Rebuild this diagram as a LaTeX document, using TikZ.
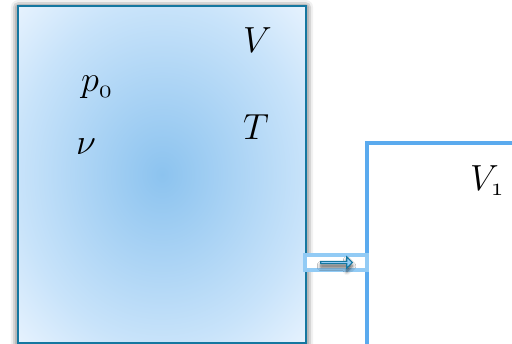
\RequirePackage{fix-cm}
\documentclass[tikz,border=0pt]{standalone}
\usetikzlibrary{fit,shapes.arrows,shadows.blur}
\definecolor{rim}{HTML}{1577A0}
\definecolor{sky}{HTML}{8CC3EF}
\definecolor{mist}{HTML}{C8E3FA}
\definecolor{pale}{HTML}{E8F3FE}
\definecolor{edge}{HTML}{5AAAEE}
\definecolor{tube}{HTML}{92CBF5}
\pgfdeclareradialshading{glow}{\pgfpoint{0bp}{0bp}}{color(0bp)=(sky); color(25bp)=(mist); color(36bp)=(pale); color(50bp)=(pale)}
\newcommand{\osz}{\mathchar"0130}
\newcommand{\oso}{\mathchar"0131}
\begin{document}
\begin{tikzpicture}[x=0.03cm, y=-0.03cm,
  tk/.style={draw=rim, line width=1.6pt, inner sep=0pt, shading=glow,
    blur shadow={shadow xshift=0pt, shadow yshift=-1pt, shadow blur radius=6pt, shadow opacity=85}},
  vs/.style={draw=edge, line width=2.6pt, fill=white, inner sep=0pt},
  pp/.style={draw=tube, line width=2.6pt, fill=white, inner sep=0pt},
  ar/.style={single arrow, draw=rim, line width=0.9pt, fill=tube, minimum height=0.95cm,
    minimum width=0.34cm, single arrow head extend=0.06cm, inner sep=0pt,
    blur shadow={shadow xshift=0pt, shadow yshift=-3pt, shadow blur radius=3pt, shadow opacity=70}},
  lb/.style={font=\fontsize{31}{36}\selectfont, inner sep=0pt, anchor=base west}]
\useasboundingbox (0,0) rectangle (512,344);
\node[tk, fit={(18,6) (306,343)}] (tank) {};
\node[vs, fit={(367,143) (530,360)}] (vessel) {};
\node[pp, fit={(305,255) (367,270)}] (pipe) {};
\node[ar] (flow) at (pipe.center) {};
% labels
\node[lb] (vol) at (243,53) {$V$};
\node[lb] (temp) at (243,140) {$T$};
\node[lb] (pres) at (81,92) {$p_{\osz}$};
\node[lb] (mol) at (76,155) {$\nu$};
\node[lb] (vol1) at (470,190) {$V_{\oso}$};
\end{tikzpicture}
\end{document}
